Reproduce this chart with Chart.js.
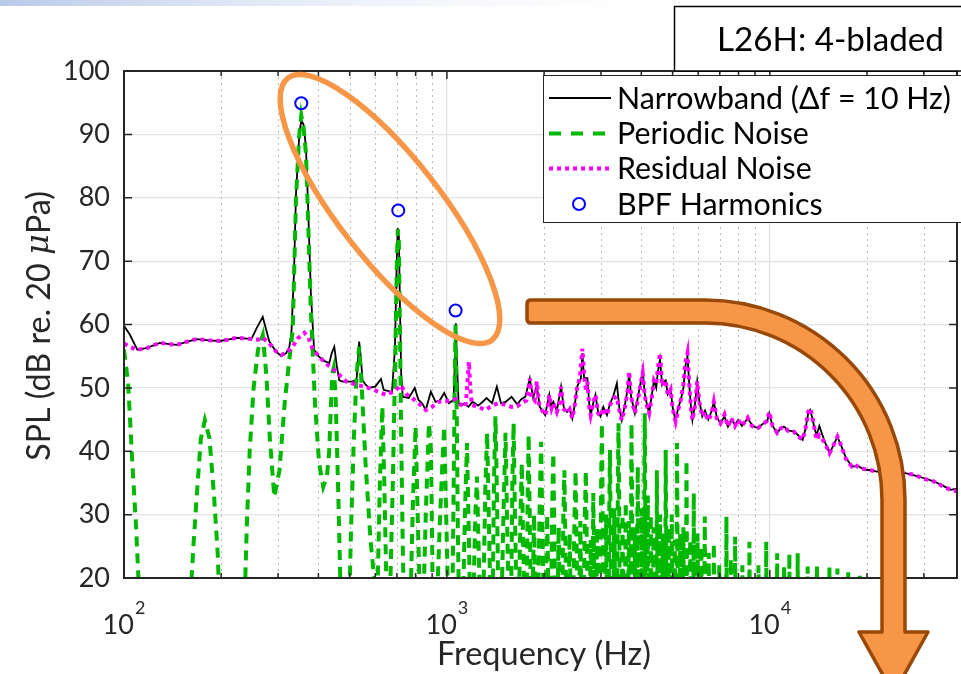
<!DOCTYPE html>
<html>
<head>
<meta charset="utf-8">
<title>L26H: 4-bladed - SPL spectrum</title>
<script src="https://cdn.jsdelivr.net/npm/chart.js@4.4.1/dist/chart.umd.min.js"></script>
<style>
  html, body { margin: 0; padding: 0; background: #fff; overflow: hidden; }
  #wrap { position: relative; width: 961px; height: 674px; overflow: hidden; }
</style>
</head>
<body>
<div id="wrap"><canvas id="spl" width="965" height="674"></canvas></div>
<script>
// ---- data (frequency in Hz, level in dB) ----
const nbFreq = [
  100, 104, 110, 118, 129, 138, 146, 157, 168, 183, 198, 210, 223, 236, 248, 258, 269, 282, 295, 307,
  318, 325, 330, 336, 341, 349, 354, 360, 366, 372, 379, 388, 400, 415, 432, 440, 448, 456, 464, 476,
  488, 505, 525, 530, 535, 541, 548, 560, 574, 600, 625, 637, 660, 676, 690, 698, 704, 710, 716, 722,
  730, 762, 795, 817, 840, 860, 892, 922, 950, 981, 1014, 1049, 1058, 1066, 1074, 1087, 1110, 1130, 1166, 1200,
  1250, 1290, 1327, 1380, 1428, 1470, 1520, 1586, 1650, 1700, 1750, 1806, 1850, 1898, 1940, 1968, 2015, 2075, 2100, 2136,
  2190, 2257, 2300, 2356, 2400, 2446, 2490, 2533, 2600, 2628, 2660, 2723, 2760, 2788, 2840, 2885, 2940, 2990, 3050, 3130,
  3200, 3280, 3360, 3420, 3480, 3560, 3620, 3668, 3720, 3820, 3900, 3970, 4040, 4100, 4160, 4230, 4300, 4380, 4450, 4500,
  4570, 4640, 4700, 4760, 4830, 4930, 5000, 5110, 5200, 5300, 5400, 5480, 5560, 5640, 5700, 5760, 5860, 5960, 6050, 6180,
  6300, 6450, 6600, 6710, 6850, 7030, 7240, 7420, 7600, 7800, 7980, 8200, 8540, 8800, 9000, 9200, 9500, 9800, 9960, 10200,
  10540, 10800, 11060, 11400, 11870, 12200, 12640, 12900, 13150, 13330, 13500, 13720, 13950, 14240, 14500, 14800, 15310, 15700, 16200, 16600,
  17200, 17940, 18860, 19600, 20500, 21460, 23000, 24500, 26120, 28000, 30280, 32000, 34000, 36330, 38000
];
const nbLevel = [
  59.8, 58.5, 56.0, 56.3, 57.1, 56.9, 56.8, 57.3, 57.7, 57.5, 57.4, 57.6, 57.9, 57.8, 57.7, 59.5, 61.2, 57.3, 55.8, 55.0,
  55.5, 56.4, 58.7, 68.0, 80.7, 89.9, 92.3, 91.5, 88.0, 78.0, 65.0, 56.0, 55.0, 54.3, 53.9, 55.5, 56.5, 53.5, 51.2, 51.0,
  51.0, 51.0, 51.2, 54.0, 57.3, 55.0, 51.2, 50.5, 50.0, 50.2, 51.4, 49.7, 49.5, 49.4, 56.0, 68.0, 75.2, 74.0, 62.0, 52.0,
  48.6, 48.4, 50.0, 48.1, 47.5, 46.5, 49.4, 47.8, 48.0, 49.2, 47.6, 48.1, 54.0, 60.2, 54.0, 47.6, 47.2, 47.5, 47.0, 47.8,
  47.2, 47.8, 48.4, 47.6, 50.2, 47.6, 47.8, 48.6, 47.4, 48.2, 48.6, 51.5, 48.4, 50.4, 47.0, 46.5, 45.7, 48.9, 47.2, 47.8,
  46.4, 50.2, 47.0, 46.2, 46.8, 45.2, 47.4, 50.2, 51.5, 55.5, 51.6, 51.5, 47.5, 45.7, 47.6, 48.9, 46.2, 45.5, 47.0, 45.7,
  47.5, 48.8, 50.7, 46.8, 44.9, 47.4, 49.5, 52.3, 48.6, 46.0, 48.4, 50.5, 52.8, 49.0, 47.5, 46.0, 48.5, 51.2, 50.0, 52.5,
  54.5, 50.5, 51.0, 51.2, 49.0, 49.7, 47.0, 44.7, 46.8, 48.1, 50.0, 53.5, 55.0, 50.0, 47.0, 44.9, 47.2, 51.0, 48.0, 45.5,
  46.4, 45.0, 46.3, 47.8, 45.4, 44.4, 45.5, 43.9, 45.0, 44.2, 44.9, 44.0, 45.2, 44.2, 43.8, 43.7, 44.3, 44.6, 46.0, 44.0,
  42.9, 43.6, 43.9, 43.3, 43.1, 42.6, 41.8, 43.5, 46.0, 46.5, 45.5, 43.9, 42.5, 44.0, 42.8, 41.5, 39.7, 40.8, 42.3, 41.0,
  39.0, 37.6, 37.6, 37.1, 37.0, 36.8, 36.9, 36.6, 36.6, 36.2, 35.7, 35.3, 34.7, 33.9, 34.1
];

const rnFreq = [
  100, 104, 110, 118, 129, 138, 146, 157, 168, 183, 198, 210, 223, 236, 248, 260, 269, 282, 295, 307,
  318, 333, 345, 362, 372, 383, 398, 412, 432, 454, 470, 488, 525, 563, 600, 647, 690, 719, 750, 781,
  820, 861, 900, 944, 1000, 1064, 1100, 1142, 1155, 1170, 1182, 1195, 1250, 1316, 1380, 1447, 1520, 1586, 1650, 1700,
  1760, 1790, 1806, 1830, 1870, 1898, 1930, 1968, 2015, 2050, 2075, 2110, 2136, 2190, 2230, 2257, 2290, 2356, 2400, 2446,
  2490, 2533, 2580, 2628, 2660, 2700, 2723, 2760, 2788, 2840, 2885, 2940, 2990, 3050, 3130, 3200, 3280, 3360, 3420, 3480,
  3560, 3620, 3668, 3720, 3820, 3900, 3970, 4040, 4100, 4160, 4230, 4300, 4380, 4450, 4500, 4570, 4640, 4700, 4760, 4830,
  4930, 5000, 5110, 5200, 5300, 5400, 5480, 5560, 5640, 5700, 5760, 5860, 5960, 6050, 6180, 6300, 6450, 6600, 6710, 6850,
  7030, 7240, 7420, 7600, 7800, 7980, 8200, 8540, 8800, 9000, 9200, 9500, 9800, 9960, 10200, 10540, 10800, 11060, 11400, 11870,
  12200, 12640, 12900, 13150, 13330, 13500, 13720, 13950, 14240, 14500, 14800, 15310, 15700, 16200, 16600, 17200, 17940, 18400, 18860, 19600,
  20500, 21460, 22300, 23000, 24500, 26120, 28000, 30280, 32000, 34000, 36330, 38000
];
const rnLevel = [
  57.0, 56.5, 56.0, 56.3, 57.1, 56.9, 56.8, 57.3, 57.7, 57.5, 57.4, 57.6, 57.9, 57.8, 57.7, 57.6, 57.9, 57.0, 55.8, 55.2,
  55.5, 56.5, 57.8, 58.7, 58.0, 56.3, 55.2, 54.4, 53.4, 52.6, 51.8, 51.0, 50.5, 50.1, 49.6, 48.9, 49.5, 50.4, 49.0, 48.4,
  47.5, 46.5, 47.0, 47.8, 47.9, 48.2, 47.4, 47.0, 50.0, 54.1, 50.0, 47.3, 47.0, 46.5, 47.2, 47.6, 47.3, 47.0, 47.1, 47.6,
  48.0, 49.5, 51.5, 48.5, 48.0, 51.0, 47.5, 46.5, 45.7, 46.8, 48.9, 46.8, 47.6, 46.2, 47.5, 50.2, 46.8, 46.0, 46.6, 45.2,
  47.4, 50.2, 51.5, 56.2, 52.0, 49.4, 51.0, 47.0, 45.7, 47.6, 48.9, 46.0, 45.5, 46.8, 45.7, 47.3, 48.4, 48.6, 46.5, 44.9,
  47.0, 49.2, 52.6, 48.6, 46.0, 48.0, 50.3, 52.3, 48.8, 47.2, 46.0, 48.2, 51.2, 50.6, 53.0, 55.5, 50.3, 51.0, 51.2, 48.8,
  49.7, 46.8, 44.7, 46.5, 48.1, 50.5, 54.0, 55.5, 50.0, 46.8, 44.9, 47.0, 51.0, 47.8, 45.5, 46.2, 44.8, 46.0, 47.8, 45.2,
  44.4, 45.8, 43.9, 45.2, 44.0, 45.0, 44.0, 45.3, 44.0, 43.8, 43.7, 44.2, 44.8, 46.2, 44.0, 42.9, 43.6, 43.9, 43.2, 43.1,
  42.4, 41.8, 43.6, 46.2, 46.8, 45.8, 43.9, 41.8, 42.5, 42.0, 41.3, 39.7, 40.8, 42.3, 41.0, 38.8, 37.6, 37.9, 37.4, 37.2,
  37.0, 36.8, 37.0, 36.7, 36.8, 36.5, 36.3, 35.6, 35.3, 34.6, 33.9, 33.7
];

// periodic part: lobes between nulls; 15 dB marks a null below the axis floor
const pnFreq = [
  100, 103, 106, 109, 112, 160, 164, 168, 173, 178, 184, 190, 195, 198, 236, 240, 245, 252, 260, 269,
  276, 283, 292, 303, 315, 325, 333, 341, 349, 354, 360, 366, 372, 379, 390, 402, 414, 425, 432, 438,
  442, 446, 452, 460, 470, 498, 505, 515, 525, 535, 545, 560, 580, 608, 620, 631, 640, 652, 665, 680,
  692, 700, 705, 710, 716, 722, 730, 736, 770, 785, 800, 812, 826, 845, 860, 880, 893, 905, 930, 950,
  968, 981, 995, 1010, 1040, 1052, 1060, 1064, 1070, 1080, 1090, 1120, 1140, 1154, 1168, 1180, 1205, 1225, 1239, 1252,
  1268, 1295, 1315, 1332, 1348, 1365, 1385, 1400, 1414, 1428, 1445, 1475, 1500, 1519, 1535, 1555, 1580, 1595, 1609, 1625,
  1645, 1670, 1690, 1706, 1722, 1740, 1765, 1780, 1791, 1805, 1822, 1840, 1862, 1880, 1915, 1940, 1958, 1975, 1995, 2020,
  2045, 2065, 2100, 2120, 2136, 2152, 2170, 2200, 2220, 2238, 2275, 2295, 2311, 2328, 2345, 2380, 2400, 2420, 2460, 2485,
  2504, 2520, 2540, 2570, 2590, 2610, 2650, 2675, 2693, 2710, 2730, 2770, 2790, 2810, 2825, 2840, 2855, 2870, 2900, 2920,
  2940, 2985, 3005, 3020, 3035, 3050, 3090, 3110, 3130, 3170, 3185, 3200, 3215, 3235, 3280, 3300, 3320, 3370, 3385, 3400,
  3415, 3430, 3480, 3500, 3520, 3560, 3580, 3600, 3640, 3660, 3680, 3710, 3722, 3730, 3745, 3760, 3800, 3815, 3830, 3875,
  3890, 3900, 3915, 3930, 3990, 4010, 4030, 4075, 4088, 4100, 4112, 4125, 4170, 4190, 4210, 4260, 4280, 4300, 4345, 4365,
  4385, 4450, 4465, 4470, 4480, 4495, 4550, 4570, 4590, 4640, 4660, 4680, 4740, 4755, 4760, 4775, 4790, 4850, 4870, 4890,
  4950, 4970, 4990, 5060, 5080, 5100, 5140, 5155, 5160, 5175, 5190, 5260, 5280, 5300, 5380, 5400, 5420, 5500, 5515, 5520,
  5535, 5550, 5650, 5670, 5690, 5800, 5815, 5830, 5950, 5975, 6000, 6120, 6140, 6160, 6270, 6290, 6310, 6450, 6470, 6490,
  6690, 6710, 6730, 6950, 6975, 7000, 7320, 7340, 7360, 7550, 7575, 7600, 7790, 7810, 7830, 8200, 8225, 8250, 8630, 8650,
  8670, 9200, 9225, 9250, 9730, 9750, 9770, 10520, 10540, 10560, 11050, 11075, 11100, 11480, 11500, 11520, 12180, 12200, 12220, 13080,
  13100, 13120, 13980, 14000, 14020, 15280, 15300, 15320, 16180, 16200, 16220, 17480, 17500, 17520, 18980, 19000, 19020, 38000
];
const pnLevel = [
  56.0, 50.8, 38.6, 28.0, 15, 15, 25.0, 33.0, 42.0, 44.9, 42.0, 33.0, 24.0, 15, 15, 28.0, 40.0, 50.0, 56.0, 58.3,
  52.0, 42.0, 32.8, 37.0, 48.0, 54.4, 59.0, 80.0, 90.0, 93.0, 91.0, 87.0, 76.0, 62.3, 48.0, 38.1, 34.4, 36.0, 40.0, 48.0,
  52.3, 53.1, 49.0, 35.0, 15, 15, 28.0, 42.0, 52.0, 56.5, 50.0, 38.0, 26.0, 15, 35.0, 47.0, 35.0, 15, 15, 35.0,
  55.0, 70.0, 75.0, 73.0, 58.0, 42.0, 25.0, 15, 15, 32.0, 43.9, 30.0, 15, 15, 30.0, 44.4, 40.0, 15, 15, 28.0,
  38.0, 43.9, 30.0, 15, 15, 40.0, 55.0, 60.0, 52.0, 30.0, 15, 15, 32.0, 41.3, 28.0, 15, 15, 30.0, 36.0, 26.0,
  15, 15, 34.0, 42.9, 30.0, 15, 15, 36.0, 45.5, 34.0, 15, 15, 32.0, 42.9, 30.0, 15, 15, 35.0, 44.4, 30.0,
  15, 15, 30.0, 38.1, 26.0, 15, 15, 34.0, 42.6, 30.0, 15, 15, 30.0, 15, 15, 33.0, 41.5, 28.0, 15, 15,
  30.0, 15, 15, 32.0, 39.7, 27.0, 15, 15, 28.0, 15, 15, 30.0, 37.0, 26.0, 15, 15, 27.0, 15, 15, 30.0,
  36.9, 26.0, 15, 15, 29.0, 15, 15, 30.0, 36.9, 27.0, 15, 15, 26.0, 15, 15, 33.4, 24.0, 15, 15, 28.0,
  15, 15, 36.0, 44.4, 32.0, 15, 15, 30.0, 15, 15, 32.0, 40.2, 27.0, 15, 15, 31.0, 15, 15, 36.0, 44.4,
  33.0, 15, 15, 30.0, 15, 15, 32.0, 15, 15, 29.0, 15, 15, 36.0, 44.4, 33.0, 15, 15, 28.0, 15, 15,
  30.0, 37.6, 25.0, 15, 15, 31.0, 15, 15, 38.0, 46.0, 36.0, 15, 15, 33.0, 15, 15, 30.0, 15, 15, 28.0,
  15, 15, 30.0, 37.0, 28.0, 15, 15, 30.0, 15, 15, 27.0, 15, 15, 32.0, 40.2, 29.0, 15, 15, 28.0, 15,
  15, 30.0, 15, 15, 26.0, 15, 15, 34.0, 41.3, 30.0, 15, 15, 27.0, 15, 15, 28.0, 15, 15, 31.0, 38.6,
  27.0, 15, 15, 26.0, 15, 15, 33.4, 15, 15, 27.0, 15, 15, 25.0, 15, 15, 29.7, 15, 15, 24.0, 15,
  15, 25.5, 15, 15, 22.0, 15, 15, 29.7, 15, 15, 23.0, 15, 15, 26.5, 15, 15, 22.0, 15, 15, 25.7,
  15, 15, 22.0, 15, 15, 25.7, 15, 15, 23.9, 15, 15, 22.0, 15, 15, 23.9, 15, 15, 23.9, 15, 15,
  21.8, 15, 15, 21.8, 15, 15, 22.0, 15, 15, 21.5, 15, 15, 21.4, 15, 15, 20.6, 15, 15
];

const bpfFreq = [354, 707, 1064];
const bpfLevel = [94.9, 78.0, 62.2];

const majorTicks = [100, 1000, 10000];
const xTicks = [100, 200, 300, 400, 500, 600, 700, 800, 900, 1000, 2000, 3000, 4000, 5000, 6000, 7000, 8000, 9000,
  10000, 20000, 30000];
const yTicks = [20, 30, 40, 50, 60, 70, 80, 90, 100];

const legendLabels = ['Narrowband (\u0394f = 10 Hz)', 'Periodic Noise', 'Residual Noise', 'BPF Harmonics'];

// ---- helpers ----
const TEXT = '#262626';
const FONT = 'Lato, "Open Sans", sans-serif';
const pts = (xs, ys) => xs.map((f, i) => ({ x: f, y: ys[i] }));

function fitSize(ctx, text, width, style) {
  ctx.font = `${style || ''} 100px ${FONT}`;
  return 100 * width / ctx.measureText(text).width;
}

// annotations, legend, axis box, tick labels drawn on the canvas
const overlay = {
  id: 'overlay',
  beforeDraw(chart) {
    const { ctx } = chart;
    ctx.save();
    ctx.fillStyle = '#fff';
    ctx.fillRect(0, 0, chart.width, chart.height);
    const g = ctx.createLinearGradient(0, 0, 730, 0);
    g.addColorStop(0, '#b9c9e9');
    g.addColorStop(1, 'rgba(255,255,255,0)');
    ctx.fillStyle = g;
    ctx.fillRect(0, 0, 730, 6);
    ctx.restore();
  },
  beforeDatasetsDraw(chart) {
    const { ctx, chartArea: a, scales: { x } } = chart;
    ctx.save();
    ctx.strokeStyle = '#b8b8b8';
    ctx.lineWidth = 1;
    ctx.setLineDash([2, 4]);
    x.ticks.forEach(t => {
      if (majorTicks.includes(t.value)) return;
      const px = Math.round(x.getPixelForValue(t.value)) + 0.5;
      ctx.beginPath(); ctx.moveTo(px, a.top); ctx.lineTo(px, a.bottom); ctx.stroke();
    });
    ctx.restore();
  },
  afterDraw(chart) {
    const { ctx, chartArea: a, scales: { x, y } } = chart;
    ctx.save();

    // axis box + inward ticks
    ctx.strokeStyle = TEXT;
    ctx.lineWidth = 2;
    ctx.strokeRect(a.left, a.top, a.right - a.left, a.bottom - a.top);
    ctx.lineWidth = 1.5;
    x.ticks.forEach(t => {
      const px = x.getPixelForValue(t.value);
      const len = majorTicks.includes(t.value) ? 8 : 5;
      ctx.beginPath();
      ctx.moveTo(px, a.bottom); ctx.lineTo(px, a.bottom - len);
      ctx.moveTo(px, a.top); ctx.lineTo(px, a.top + len);
      ctx.stroke();
    });
    yTicks.forEach(v => {
      const py = y.getPixelForValue(v);
      ctx.beginPath();
      ctx.moveTo(a.left, py); ctx.lineTo(a.left + 8, py);
      ctx.moveTo(a.right, py); ctx.lineTo(a.right - 8, py);
      ctx.stroke();
    });

    // x tick labels as 10^n
    ctx.fillStyle = TEXT;
    ctx.textBaseline = 'alphabetic';
    ctx.textAlign = 'left';
    majorTicks.forEach(v => {
      const px = x.getPixelForValue(v);
      const exp = String(Math.round(Math.log10(v)));
      ctx.font = `27px ${FONT}`;
      const wb = ctx.measureText('10').width;
      ctx.font = `18px ${FONT}`;
      const we = ctx.measureText(exp).width;
      const left = px - (wb + we + 1) / 2;
      ctx.font = `27px ${FONT}`;
      ctx.fillText('10', left, 634);
      ctx.font = `18px ${FONT}`;
      ctx.fillText(exp, left + wb + 1, 614);
    });

    // axis titles
    const xt = 'Frequency (Hz)';
    ctx.font = `${fitSize(ctx, xt, 214)}px ${FONT}`;
    ctx.textAlign = 'center';
    ctx.textBaseline = 'middle';
    ctx.fillText(xt, 544, 655);

    const yParts = ['SPL (dB re. 20 ', '\u03BC', 'Pa)'];
    const ySize = fitSize(ctx, yParts.join(''), 268);
    const yFonts = [`${ySize}px ${FONT}`, `italic ${ySize}px "DejaVu Serif", serif`, `${ySize}px ${FONT}`];
    const widths = yParts.map((s, i) => { ctx.font = yFonts[i]; return ctx.measureText(s).width; });
    const total = widths.reduce((s, w) => s + w, 0);
    ctx.translate(40, 326);
    ctx.rotate(-Math.PI / 2);
    ctx.textAlign = 'left';
    let off = -total / 2;
    yParts.forEach((s, i) => { ctx.font = yFonts[i]; ctx.fillText(s, off, 0); off += widths[i]; });
    ctx.setTransform(1, 0, 0, 1, 0, 0);

    // legend
    const lx = 543.5, ly = 75.5;
    ctx.fillStyle = '#fff';
    ctx.fillRect(lx, ly, chart.width - lx + 2, 147);
    ctx.strokeStyle = TEXT;
    ctx.lineWidth = 1;
    ctx.strokeRect(lx, ly, chart.width - lx + 2, 147);
    const rows = [98, 133.5, 168.5, 204];
    const legSize = fitSize(ctx, legendLabels[0], 334);
    const dsOrder = [3, 2, 1, 0];
    rows.forEach((ry, i) => {
      const ds = chart.data.datasets[dsOrder[i]];
      ctx.save();
      if (ds.showLine === false) {
        ctx.strokeStyle = ds.pointBorderColor;
        ctx.lineWidth = ds.pointBorderWidth;
        ctx.beginPath(); ctx.arc(579, ry, ds.pointRadius, 0, Math.PI * 2); ctx.stroke();
      } else {
        ctx.strokeStyle = ds.borderColor;
        ctx.lineWidth = ds.borderWidth;
        ctx.setLineDash(ds.legendDash || ds.borderDash || []);
        ctx.beginPath(); ctx.moveTo(549, ry); ctx.lineTo(611, ry); ctx.stroke();
      }
      ctx.restore();
      ctx.fillStyle = '#000';
      ctx.font = `${legSize}px ${FONT}`;
      ctx.textAlign = 'left';
      ctx.textBaseline = 'middle';
      ctx.fillText(legendLabels[i], 617, ry + 1);
    });

    // case label box
    ctx.fillStyle = '#fff';
    ctx.fillRect(674.5, 6.5, 300, 64.5);
    ctx.strokeStyle = '#000';
    ctx.lineWidth = 1.5;
    ctx.strokeRect(674.5, 6.5, 300, 64.5);
    const tt = 'L26H: 4-bladed';
    ctx.fillStyle = '#000';
    ctx.font = `${fitSize(ctx, tt, 227)}px ${FONT}`;
    ctx.textBaseline = 'middle';
    ctx.fillText(tt, 717, 40);

    // orange ellipse around the BPF tones
    ctx.strokeStyle = '#F79646';
    ctx.lineWidth = 5.5;
    ctx.beginPath();
    ctx.ellipse(390, 209, 166, 51, 52 * Math.PI / 180, 0, Math.PI * 2);
    ctx.stroke();

    // bent arrow
    ctx.beginPath();
    ctx.moveTo(531, 300);
    ctx.lineTo(705, 300);
    ctx.arc(705, 500, 200, -Math.PI / 2, 0);
    ctx.lineTo(905, 632);
    ctx.lineTo(928, 632);
    ctx.lineTo(893.5, 694);
    ctx.lineTo(859, 632);
    ctx.lineTo(882, 632);
    ctx.lineTo(882, 500);
    ctx.arc(705, 500, 177, 0, -Math.PI / 2, true);
    ctx.lineTo(531, 323);
    ctx.quadraticCurveTo(527, 323, 527, 319);
    ctx.lineTo(527, 304);
    ctx.quadraticCurveTo(527, 300, 531, 300);
    ctx.closePath();
    ctx.fillStyle = '#F79646';
    ctx.fill();
    ctx.strokeStyle = '#984807';
    ctx.lineWidth = 3.5;
    ctx.lineJoin = 'round';
    ctx.stroke();

    ctx.restore();
  }
};

new Chart(document.getElementById('spl'), {
  type: 'line',
  data: {
    datasets: [
      {
        label: legendLabels[3], data: pts(bpfFreq, bpfLevel), showLine: false,
        pointRadius: 6, pointBorderColor: '#0000FF', pointBackgroundColor: 'rgba(0,0,0,0)', pointBorderWidth: 2,
        clip: false
      },
      {
        label: legendLabels[2], data: pts(rnFreq, rnLevel), borderColor: '#FF00FF', borderWidth: 4,
        borderDash: [4, 4], borderCapStyle: 'butt', pointRadius: 0, tension: 0, clip: 0
      },
      {
        label: legendLabels[1], data: pts(pnFreq, pnLevel), borderColor: '#00B800', borderWidth: 4,
        borderDash: [10, 7], legendDash: [12, 10], pointRadius: 0, tension: 0, clip: 0
      },
      {
        label: legendLabels[0], data: pts(nbFreq, nbLevel), borderColor: '#000000', borderWidth: 1.8,
        pointRadius: 0, tension: 0, clip: 0
      }
    ]
  },
  options: {
    responsive: false,
    devicePixelRatio: 1,
    animation: false,
    events: [],
    layout: { padding: { top: 71, right: 0, left: 0, bottom: 0 } },
    plugins: { legend: { display: false }, tooltip: { enabled: false }, title: { display: false } },
    scales: {
      x: {
        type: 'logarithmic', min: 100, max: 38000,
        afterBuildTicks: s => { s.ticks = xTicks.map(v => ({ value: v })); },
        afterFit: s => { s.height = 96; },
        ticks: { display: false },
        border: { display: false },
        grid: {
          drawTicks: false,
          lineWidth: 1.2,
          color: c => (c.tick && majorTicks.includes(c.tick.value)) ? '#dedede' : 'rgba(0,0,0,0)'
        }
      },
      y: {
        min: 20, max: 100,
        afterBuildTicks: s => { s.ticks = yTicks.map(v => ({ value: v })); },
        afterFit: s => { s.width = 124; },
        ticks: { color: TEXT, padding: 14, font: { family: FONT, size: 27 } },
        border: { display: false },
        grid: { drawTicks: false, lineWidth: 1.2, color: '#e2e2e2' }
      }
    }
  },
  plugins: [overlay]
});
</script>
</body>
</html>
